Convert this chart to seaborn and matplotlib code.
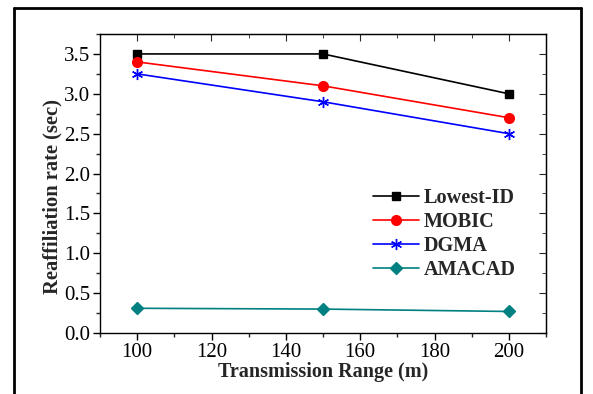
import matplotlib
matplotlib.use("Agg")
import matplotlib.pyplot as plt
from matplotlib.ticker import MultipleLocator, FormatStrFormatter
from matplotlib.lines import Line2D
import seaborn as sns
import pandas as pd

ranges = [100, 150, 200]
lowest_id = [3.5, 3.5, 3.0]
mobic = [3.4, 3.1, 2.7]
dgma = [3.25, 2.9, 2.5]
amacad = [0.31, 0.30, 0.27]
series_names = ["Lowest-ID", "MOBIC", "DGMA", "AMACAD"]

sns.set_style("ticks")
plt.rcParams["font.family"] = "serif"
plt.rcParams["font.serif"] = ["Liberation Serif", "DejaVu Serif"]

colors = {"Lowest-ID": "#000000", "MOBIC": "#ff0000", "DGMA": "#0000ff", "AMACAD": "#008080"}
markers = {"Lowest-ID": "s", "MOBIC": "o", "DGMA": (6, 2, 0), "AMACAD": "D"}
msizes = {"Lowest-ID": 6, "MOBIC": 7, "DGMA": 8, "AMACAD": 6}

fig = plt.figure(figsize=(5.93, 3.94), dpi=100)
ax = fig.add_axes([100/593, 1-333/394, 446/593, 299/394])

for name, vals in zip(series_names, [lowest_id, mobic, dgma, amacad]):
    df = pd.DataFrame({"range": ranges, "value": vals})
    sns.lineplot(data=df, x="range", y="value", ax=ax, color=colors[name],
                 marker=markers[name], markersize=msizes[name],
                 markeredgecolor=colors[name], markeredgewidth=1.0,
                 linewidth=1.2, label=name)

ax.set_xlim(90, 210)
ax.set_ylim(0, 3.75)
ax.xaxis.set_major_locator(MultipleLocator(20))
ax.xaxis.set_minor_locator(MultipleLocator(10))
ax.yaxis.set_major_locator(MultipleLocator(0.5))
ax.yaxis.set_minor_locator(MultipleLocator(0.25))
ax.yaxis.set_major_formatter(FormatStrFormatter("%.1f"))

ax.tick_params(axis="both", which="major", direction="out", length=5, width=1,
               labelsize=15, colors="black", top=False, right=False, pad=2)
ax.tick_params(axis="both", which="minor", direction="out", length=3, width=1,
               top=False, right=False)
for s in ax.spines.values():
    s.set_linewidth(1.0)
    s.set_color("black")

sec_x = ax.secondary_xaxis("top")
sec_x.xaxis.set_major_locator(MultipleLocator(20))
sec_x.xaxis.set_minor_locator(MultipleLocator(10))
sec_x.tick_params(which="major", direction="in", length=5, labeltop=False)
sec_x.tick_params(which="minor", direction="in", length=3)
sec_y = ax.secondary_yaxis("right")
sec_y.yaxis.set_major_locator(MultipleLocator(0.5))
sec_y.yaxis.set_minor_locator(MultipleLocator(0.25))
sec_y.tick_params(which="major", direction="in", length=5, labelright=False)
sec_y.tick_params(which="minor", direction="in", length=3)

ax.set_xlabel("Transmission Range (m)", fontsize=14.5, fontweight="bold", labelpad=0)
ax.set_ylabel("Reaffiliation rate (sec)", fontsize=14.8, fontweight="bold")
ax.yaxis.set_label_coords(-0.083, 1-(197-34)/299)

leg = ax.legend(loc="upper left", bbox_to_anchor=(0.572, 0.547),
                frameon=False, prop={"weight": "bold", "size": 14.6},
                handlelength=2.25, handletextpad=0.25, labelspacing=0.2)

# outer frame (open at bottom)
x0, x1, yt = 14/593, 581/593, 1-8/394
for xs, ys in [([x0, x0], [0, yt]), ([x1, x1], [0, yt]), ([x0, x1], [yt, yt])]:
    fig.add_artist(Line2D(xs, ys, transform=fig.transFigure, color="black", linewidth=2))

fig.savefig("out.png", dpi=100)
